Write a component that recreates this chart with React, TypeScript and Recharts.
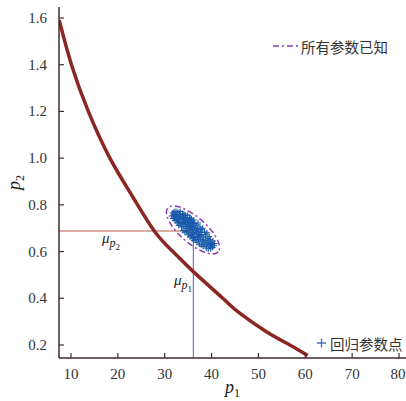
import {
  ComposedChart,
  Line,
  Scatter,
  XAxis,
  YAxis,
  ReferenceLine,
  ReferenceDot,
} from "recharts";

// thick curve p2(p1)
const curveP1 = [7.5, 10.1, 13.7, 18.3, 23.0, 27.9, 32.0, 36.1, 42.4, 46.0, 51.7, 56.7, 60.5];
const curveP2 = [1.59, 1.4, 1.2, 1.0, 0.84, 0.685, 0.595, 0.514, 0.4, 0.336, 0.257, 0.2, 0.155];

// dash-dot contour around the cloud
const ellipseP1 = [
  41.43, 40.77, 39.79, 38.56, 37.15, 35.67, 34.21, 32.87, 31.76, 30.93, 30.45, 30.35,
  30.63, 31.29, 32.27, 33.5, 34.91, 36.39, 37.85, 39.19, 40.31, 41.13, 41.61, 41.71,
];
const ellipseP2 = [
  0.598, 0.591, 0.59, 0.596, 0.609, 0.6275, 0.6505, 0.676, 0.703, 0.729, 0.753, 0.7725,
  0.7866, 0.794, 0.795, 0.789, 0.776, 0.7575, 0.7345, 0.7087, 0.6818, 0.6557, 0.632, 0.6125,
];

// regression parameter points
const cloud: [number, number][] = [
  [31.5, 0.752], [31.7, 0.765], [31.8, 0.742], [32.0, 0.77], [32.1, 0.748], [32.2, 0.733],
  [32.3, 0.76], [31.9, 0.756],
  [32.4, 0.772], [32.5, 0.735], [32.6, 0.756], [32.7, 0.722], [32.8, 0.768], [32.9, 0.745],
  [33.0, 0.712], [33.1, 0.76], [33.2, 0.731], [33.3, 0.749], [33.4, 0.718], [32.6, 0.744],
  [33.0, 0.737], [33.3, 0.772], [32.9, 0.725],
  [33.5, 0.752], [33.6, 0.705], [33.7, 0.737], [33.8, 0.762], [33.9, 0.69], [34.0, 0.724],
  [34.0, 0.748], [34.1, 0.708], [34.2, 0.737], [34.3, 0.683], [34.4, 0.755], [34.4, 0.717],
  [34.5, 0.699], [33.7, 0.72], [34.2, 0.726], [33.9, 0.742], [34.1, 0.761], [34.5, 0.735],
  [34.6, 0.744], [34.7, 0.686], [34.8, 0.722], [34.9, 0.755], [35.0, 0.7], [35.0, 0.672],
  [35.1, 0.735], [35.2, 0.711], [35.3, 0.746], [35.3, 0.69], [35.4, 0.663], [35.5, 0.722],
  [35.5, 0.7], [34.8, 0.706], [35.2, 0.68], [34.9, 0.73], [35.1, 0.717], [35.4, 0.738],
  [35.6, 0.722], [35.7, 0.668], [35.7, 0.74], [35.8, 0.695], [35.9, 0.728], [36.0, 0.655],
  [36.0, 0.708], [36.1, 0.684], [36.2, 0.735], [36.2, 0.648], [36.3, 0.702], [36.4, 0.672],
  [36.4, 0.72], [36.5, 0.69], [35.9, 0.68], [36.3, 0.66], [36.1, 0.712], [35.8, 0.708],
  [36.6, 0.652], [36.7, 0.713], [36.8, 0.68], [36.9, 0.64], [37.0, 0.697], [37.0, 0.664],
  [37.1, 0.722], [37.2, 0.65], [37.3, 0.686], [37.4, 0.632], [37.5, 0.668], [37.5, 0.705],
  [36.7, 0.69], [37.2, 0.675], [36.9, 0.66],
  [37.6, 0.652], [37.7, 0.695], [37.8, 0.628], [37.9, 0.672], [38.0, 0.645], [38.1, 0.7],
  [38.2, 0.622], [38.3, 0.662], [38.4, 0.638], [38.5, 0.684], [37.8, 0.682], [38.2, 0.65],
  [38.6, 0.63], [38.7, 0.672], [38.8, 0.648], [38.9, 0.615], [39.0, 0.68], [39.1, 0.632],
  [39.2, 0.655], [39.3, 0.612], [39.4, 0.64], [39.5, 0.664],
  [39.6, 0.625], [39.7, 0.65], [39.8, 0.612], [39.9, 0.64], [40.0, 0.628], [40.2, 0.618],
  [40.3, 0.645], [40.5, 0.625], [40.6, 0.634], [39.8, 0.632],
];

const meanP1 = 36.1;
const meanP2 = 0.688;

const xTicks = [10, 20, 30, 40, 50, 60, 70, 80];
const yTicks = [0.2, 0.4, 0.6, 0.8, 1.0, 1.2, 1.4, 1.6];

const curveData = curveP1.map((x, i) => ({ x, y: curveP2[i] }));
const ellipseData = ellipseP1.map((x, i) => ({ x, y: ellipseP2[i] }));
const cloudData = cloud.map(([x, y]) => ({ x, y }));

const AXIS = "#3d2e2c";
const SERIF = "'Liberation Serif', 'Times New Roman', 'DejaVu Serif', serif";
const CJK = "'Noto Sans CJK SC', sans-serif";
const BLUE = "#1a5aab";
const PURPLE = "#8a3cb8";

const Plus = (props: any) => {
  const { cx, cy } = props;
  if (cx == null || cy == null) return null;
  return (
    <path
      d={`M${cx - 3},${cy}h6M${cx},${cy - 3}v6`}
      stroke={BLUE}
      strokeWidth={1.1}
    />
  );
};

const XTick = (props: any) => {
  const { x, payload } = props;
  return (
    <text x={x} y={379} textAnchor="middle" style={{ fontFamily: SERIF }} fontSize={15} fill="#333">
      {payload.value}
    </text>
  );
};

const YTick = (props: any) => {
  const { y, payload } = props;
  return (
    <text x={47} y={y + 5} textAnchor="end" style={{ fontFamily: SERIF }} fontSize={15} fill="#333">
      {Number(payload.value).toFixed(1)}
    </text>
  );
};

const MuLabel = (sub: string) => (props: any) => {
  const { viewBox } = props;
  const x = viewBox.x + (viewBox.width || 0) / 2;
  const y = viewBox.y + (viewBox.height || 0) / 2;
  return (
    <text x={x} y={y} style={{ fontFamily: SERIF }} fill="#222" fontSize={15}>
      <tspan fontStyle="italic">μ</tspan>
      <tspan fontStyle="italic" fontSize={12} dy={4}>p</tspan>
      <tspan fontSize={9} dy={3}>{sub}</tspan>
    </text>
  );
};

const XLabel = (props: any) => {
  const { viewBox } = props;
  const x = viewBox.x + viewBox.width / 2;
  return (
    <text x={x} y={393} textAnchor="middle" style={{ fontFamily: SERIF }} fill="#222" fontSize={18}>
      <tspan fontStyle="italic">p</tspan>
      <tspan fontSize={12} dy={4}>1</tspan>
    </text>
  );
};

const YLabel = (props: any) => {
  const { viewBox } = props;
  const y = viewBox.y + viewBox.height / 2;
  return (
    <text
      x={20}
      y={y}
      textAnchor="middle"
      transform={`rotate(-90, 20, ${y})`}
      style={{ fontFamily: SERIF }}
      fill="#222"
      fontSize={18}
    >
      <tspan fontStyle="italic">p</tspan>
      <tspan fontSize={12} dy={4}>2</tspan>
    </text>
  );
};

export default function App() {
  return (
    <div
      style={{
        position: "absolute",
        left: 0,
        top: 0,
        width: 406,
        height: 401,
        background: "#fff",
        overflow: "hidden",
        fontFamily: SERIF,
      }}
    >
      <ComposedChart
        width={406}
        height={401}
        margin={{ top: 7, right: 0, bottom: 0, left: 0 }}
      >
        <XAxis
          type="number"
          dataKey="x"
          domain={[7.44, 81.49]}
          ticks={xTicks}
          allowDataOverflow
          height={43}
          tickSize={-5}
          axisLine={{ stroke: AXIS, strokeWidth: 1.5 }}
          tickLine={{ stroke: AXIS, strokeWidth: 1.2 }}
          tick={XTick}
          label={{ content: XLabel }}
        />
        <YAxis
          type="number"
          dataKey="y"
          domain={[0.1443, 1.647]}
          ticks={yTicks}
          allowDataOverflow
          width={59}
          tickSize={-5}
          axisLine={{ stroke: AXIS, strokeWidth: 1.5 }}
          tickLine={{ stroke: AXIS, strokeWidth: 1.2 }}
          tick={YTick}
          label={{ content: YLabel }}
        />
        <ReferenceLine
          segment={[
            { x: 7.44, y: meanP2 },
            { x: meanP1, y: meanP2 },
          ]}
          stroke="#b5574c"
          strokeWidth={1}
        />
        <ReferenceLine
          segment={[
            { x: meanP1, y: 0.1443 },
            { x: meanP1, y: meanP2 },
          ]}
          stroke="#5560a8"
          strokeWidth={1}
        />
        <Line
          data={curveData}
          dataKey="y"
          type="natural"
          stroke="#8b2622"
          strokeWidth={3.5}
          dot={false}
          isAnimationActive={false}
        />
        <Scatter
          data={cloudData}
          dataKey="y"
          shape={Plus}
          isAnimationActive={false}
        />
        <Line
          data={ellipseData}
          dataKey="y"
          type="linearClosed"
          stroke={PURPLE}
          strokeWidth={1.5}
          strokeDasharray="6 3 2 3"
          dot={false}
          isAnimationActive={false}
        />
        <ReferenceDot x={16.6} y={0.637} r={0} fill="none" stroke="none" label={{ content: MuLabel("2") }} />
        <ReferenceDot x={32.0} y={0.457} r={0} fill="none" stroke="none" label={{ content: MuLabel("1") }} />
      </ComposedChart>

      <div
        style={{
          position: "absolute",
          left: 273,
          top: 36,
          height: 20,
          display: "flex",
          alignItems: "center",
          fontFamily: CJK,
          fontSize: 14.5,
          color: "#333",
          whiteSpace: "nowrap",
        }}
      >
        <svg width={26} height={4} style={{ marginRight: 2 }}>
          <line x1={0} y1={2} x2={26} y2={2} stroke={PURPLE} strokeWidth={1.5} strokeDasharray="6 3 2 3" />
        </svg>
        所有参数已知
      </div>
      <div
        style={{
          position: "absolute",
          left: 316,
          top: 333,
          height: 20,
          display: "flex",
          alignItems: "center",
          fontFamily: CJK,
          fontSize: 14.5,
          color: "#333",
          whiteSpace: "nowrap",
        }}
      >
        <svg width={12} height={12} style={{ marginRight: 2 }}>
          <path d="M1,6h9M5.5,1.5v9" stroke="#3c6fc0" strokeWidth={1.3} />
        </svg>
        回归参数点
      </div>
    </div>
  );
}
